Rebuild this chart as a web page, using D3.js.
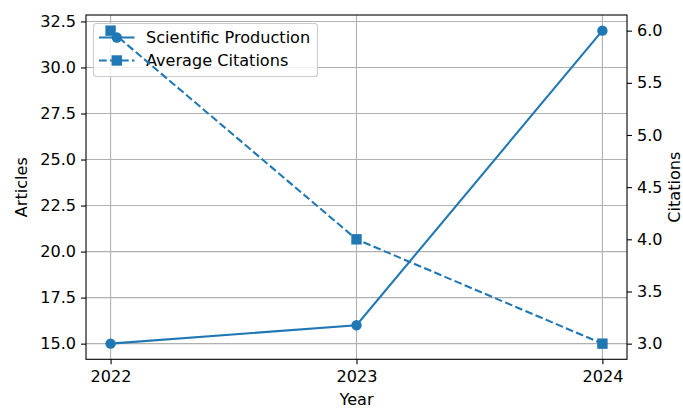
<!DOCTYPE html>
<html><head><meta charset="utf-8">
<script src="https://cdn.jsdelivr.net/npm/d3@7"></script>
<style>body{margin:0;background:#fff}svg{display:block}text{font-family:"DejaVu Sans",sans-serif}</style>
</head><body>
<svg id="c" width="683" height="409"></svg>
<script>
const years = [2022, 2023, 2024];
const articles = [15, 16, 32];
const citations = [6, 4, 3];
const leftTicks = [15.0, 17.5, 20.0, 22.5, 25.0, 27.5, 30.0, 32.5];
const rightTicks = [3.0, 3.5, 4.0, 4.5, 5.0, 5.5, 6.0];
const seriesNames = ["Scientific Production", "Average Citations"];

const W = 683, H = 409;
const m = {l: 86, r: 627, t: 15, b: 359.3};
const color = "#1f77b4";
const fs = 16.1;
const svg = d3.select("#c");

const x = d3.scaleLinear().domain([2021.9, 2024.1]).range([m.l, m.r]);
const yL = d3.scaleLinear().domain([14.15, 32.85]).range([m.b, m.t]);
const yR = d3.scaleLinear().domain([2.85, 6.15]).range([m.b, m.t]);

// grid
const g = svg.append("g");
g.selectAll(".hg").data(leftTicks).join("line")
  .attr("x1", m.l).attr("x2", m.r).attr("y1", d => yL(d)).attr("y2", d => yL(d))
  .attr("stroke", "#b0b0b0").attr("stroke-width", 1.1);
g.selectAll(".vg").data(years).join("line")
  .attr("y1", m.t).attr("y2", m.b).attr("x1", d => x(d)).attr("x2", d => x(d))
  .attr("stroke", "#b0b0b0").attr("stroke-width", 1.1);

// axes
const axL = d3.axisLeft(yL).tickValues(leftTicks).tickFormat(d3.format(".1f")).tickSize(5).tickPadding(5);
const axR = d3.axisRight(yR).tickValues(rightTicks).tickFormat(d3.format(".1f")).tickSize(5).tickPadding(5);
const axB = d3.axisBottom(x).tickValues(years).tickFormat(d3.format("d")).tickSize(5).tickPadding(6.5);
function style(sel){
  sel.select(".domain").remove();
  sel.selectAll(".tick line").attr("stroke", "#000").attr("stroke-width", 1.1);
  sel.selectAll(".tick text").attr("font-size", fs).attr("fill", "#000").style("font-family", '"DejaVu Sans",sans-serif');
}
svg.append("g").attr("transform", `translate(${m.l},0)`).call(axL).call(style);
svg.append("g").attr("transform", `translate(${m.r},0)`).call(axR).call(style);
svg.append("g").attr("transform", `translate(0,${m.b})`).call(axB).call(style);

// lines ax1
const line1 = d3.line().x((d, i) => x(years[i])).y(d => yL(d));
svg.append("path").datum(articles).attr("d", line1).attr("fill", "none")
  .attr("stroke", color).attr("stroke-width", 2.08);
svg.selectAll(".c1").data(articles).join("circle")
  .attr("cx", (d, i) => x(years[i])).attr("cy", d => yL(d)).attr("r", 5.2).attr("fill", color);

// legend (on ax1, below ax2)
const lg = svg.append("g");
lg.append("rect").attr("x", 93.5).attr("y", 23.5).attr("width", 224).attr("height", 53)
  .attr("rx", 3).attr("fill", "#fff").attr("fill-opacity", 0.8).attr("stroke", "#cccccc").attr("stroke-width", 1.1);
const rows = [37.5, 60.5];
lg.append("line").attr("x1", 99).attr("x2", 134.5).attr("y1", rows[0]).attr("y2", rows[0])
  .attr("stroke", color).attr("stroke-width", 2.08);
lg.append("circle").attr("cx", 116.8).attr("cy", rows[0]).attr("r", 5.2).attr("fill", color);
lg.append("line").attr("x1", 99).attr("x2", 134.5).attr("y1", rows[1]).attr("y2", rows[1])
  .attr("stroke", color).attr("stroke-width", 2.08).attr("stroke-dasharray", "7.7,3.3");
lg.append("rect").attr("x", 116.8 - 5.2).attr("y", rows[1] - 5.2).attr("width", 10.4).attr("height", 10.4).attr("fill", color);
lg.selectAll(".lt").data(seriesNames).join("text")
  .attr("x", 146).attr("y", (d, i) => rows[i]).attr("dy", "0.36em")
  .attr("font-size", fs).attr("fill", "#000").text(d => d);

// ax2 lines
const line2 = d3.line().x((d, i) => x(years[i])).y(d => yR(d));
svg.append("path").datum(citations).attr("d", line2).attr("fill", "none")
  .attr("stroke", color).attr("stroke-width", 2.08).attr("stroke-dasharray", "7.7,3.3");
svg.selectAll(".s2").data(citations).join("rect")
  .attr("x", (d, i) => x(years[i]) - 5.2).attr("y", d => yR(d) - 5.2)
  .attr("width", 10.4).attr("height", 10.4).attr("fill", color);

// frame
svg.append("rect").attr("x", m.l).attr("y", m.t).attr("width", m.r - m.l).attr("height", m.b - m.t)
  .attr("fill", "none").attr("stroke", "#000").attr("stroke-width", 1.1);

// labels
svg.append("text").attr("x", (m.l + m.r) / 2).attr("y", 405).attr("text-anchor", "middle")
  .attr("font-size", fs).text("Year");
svg.append("text").attr("transform", `translate(27,${(m.t + m.b) / 2}) rotate(-90)`).attr("text-anchor", "middle")
  .attr("font-size", fs).text("Articles");
svg.append("text").attr("transform", `translate(679.5,${(m.t + m.b) / 2}) rotate(-90)`).attr("text-anchor", "middle")
  .attr("font-size", fs).text("Citations");
</script>
</body></html>
